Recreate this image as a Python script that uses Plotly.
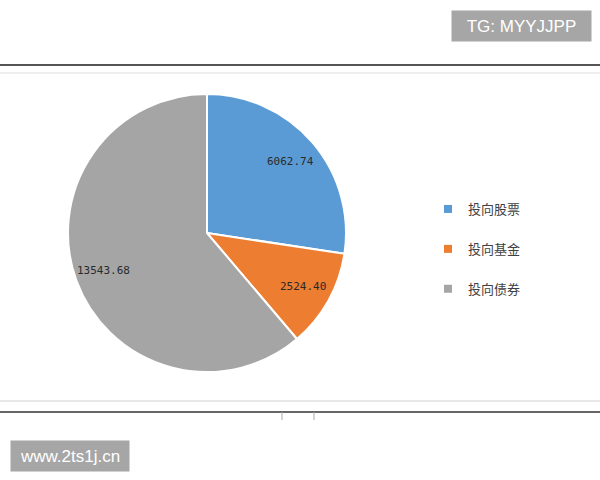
import math
import plotly.graph_objects as go

labels = ["投向股票", "投向基金", "投向债券"]
values = [6062.74, 2524.40, 13543.68]
colors = ["#5B9BD5", "#ED7D31", "#A5A5A5"]

W, H = 600, 480
cx0, cx1, cy0, cy1 = 68, 346, 94, 372

fig = go.Figure()
fig.add_trace(go.Pie(
    labels=labels, values=values, sort=False, direction="clockwise", rotation=0,
    marker=dict(colors=colors, line=dict(color="white", width=2)),
    textinfo="none",
    domain=dict(x=[cx0 / W, cx1 / W], y=[1 - cy1 / H, 1 - cy0 / H]),
    showlegend=False, hoverinfo="label+value+percent",
))
for i, (lab, col) in enumerate(zip(labels, colors)):
    fig.add_trace(go.Scatter(
        x=[None], y=[None], mode="markers", name=lab, legendgroup=f"g{i}",
        marker=dict(symbol="square", size=8, color=col),
    ))

# data labels placed from slice geometry (mid-angle, ~0.79 radius)
pcx, pcy = (cx0 + cx1) / 2, (cy0 + cy1) / 2
rad = (cx1 - cx0) / 2
total = sum(values)
annotations = []
cum = 0.0
for v in values:
    mid = (cum + v / 2) / total * 2 * math.pi
    cum += v
    px = pcx + 0.79 * rad * math.sin(mid)
    py = pcy - 0.79 * rad * math.cos(mid)
    annotations.append(dict(
        text=f"{v:.2f}", xref="paper", yref="paper", x=px / W, y=1 - py / H,
        xanchor="center", yanchor="middle", showarrow=False,
        font=dict(family="DejaVu Sans Mono", size=11, color="#2a2a2a"),
    ))

shapes = [
    dict(type="line", xref="paper", yref="paper", x0=0, x1=1, y0=1 - 65 / H, y1=1 - 65 / H,
         line=dict(color="#555555", width=2)),
    dict(type="line", xref="paper", yref="paper", x0=0, x1=1, y0=1 - 73 / H, y1=1 - 73 / H,
         line=dict(color="#dddddd", width=1)),
    dict(type="line", xref="paper", yref="paper", x0=0, x1=1, y0=1 - 401 / H, y1=1 - 401 / H,
         line=dict(color="#e0e0e0", width=1.5)),
    dict(type="line", xref="paper", yref="paper", x0=0, x1=1, y0=1 - 412 / H, y1=1 - 412 / H,
         line=dict(color="#666666", width=2)),
    dict(type="line", xref="paper", yref="paper", x0=282 / W, x1=282 / W, y0=1 - 412 / H, y1=1 - 420 / H,
         line=dict(color="#aaaaaa", width=1)),
    dict(type="line", xref="paper", yref="paper", x0=314 / W, x1=314 / W, y0=1 - 412 / H, y1=1 - 420 / H,
         line=dict(color="#aaaaaa", width=1)),
]

annotations += [
    dict(text="TG: MYYJJPP", xref="paper", yref="paper", x=451 / W, y=1 - 10 / H,
         xanchor="left", yanchor="top", showarrow=False, bgcolor="#a6a6a6",
         font=dict(family="Liberation Sans", size=17, color="white"),
         width=139, height=30, borderpad=0, align="center"),
    dict(text="www.2ts1j.cn", xref="paper", yref="paper", x=10 / W, y=1 - 440 / H,
         xanchor="left", yanchor="top", showarrow=False, bgcolor="#a6a6a6",
         font=dict(family="Liberation Sans", size=17, color="white"),
         width=118, height=30, borderpad=0, align="center"),
]

fig.update_layout(
    width=W, height=H, margin=dict(l=0, r=0, t=0, b=0),
    paper_bgcolor="white", plot_bgcolor="white",
    xaxis=dict(visible=False), yaxis=dict(visible=False),
    legend=dict(x=428 / W, y=1 - 194 / H, xanchor="left", yanchor="top",
                tracegroupgap=20, itemwidth=30,
                font=dict(family="Noto Sans CJK SC", size=13, color="#404040")),
    shapes=shapes, annotations=annotations,
)

fig.write_html("out.html", config={"displayModeBar": False},
               post_script="document.body.style.margin='0';")
